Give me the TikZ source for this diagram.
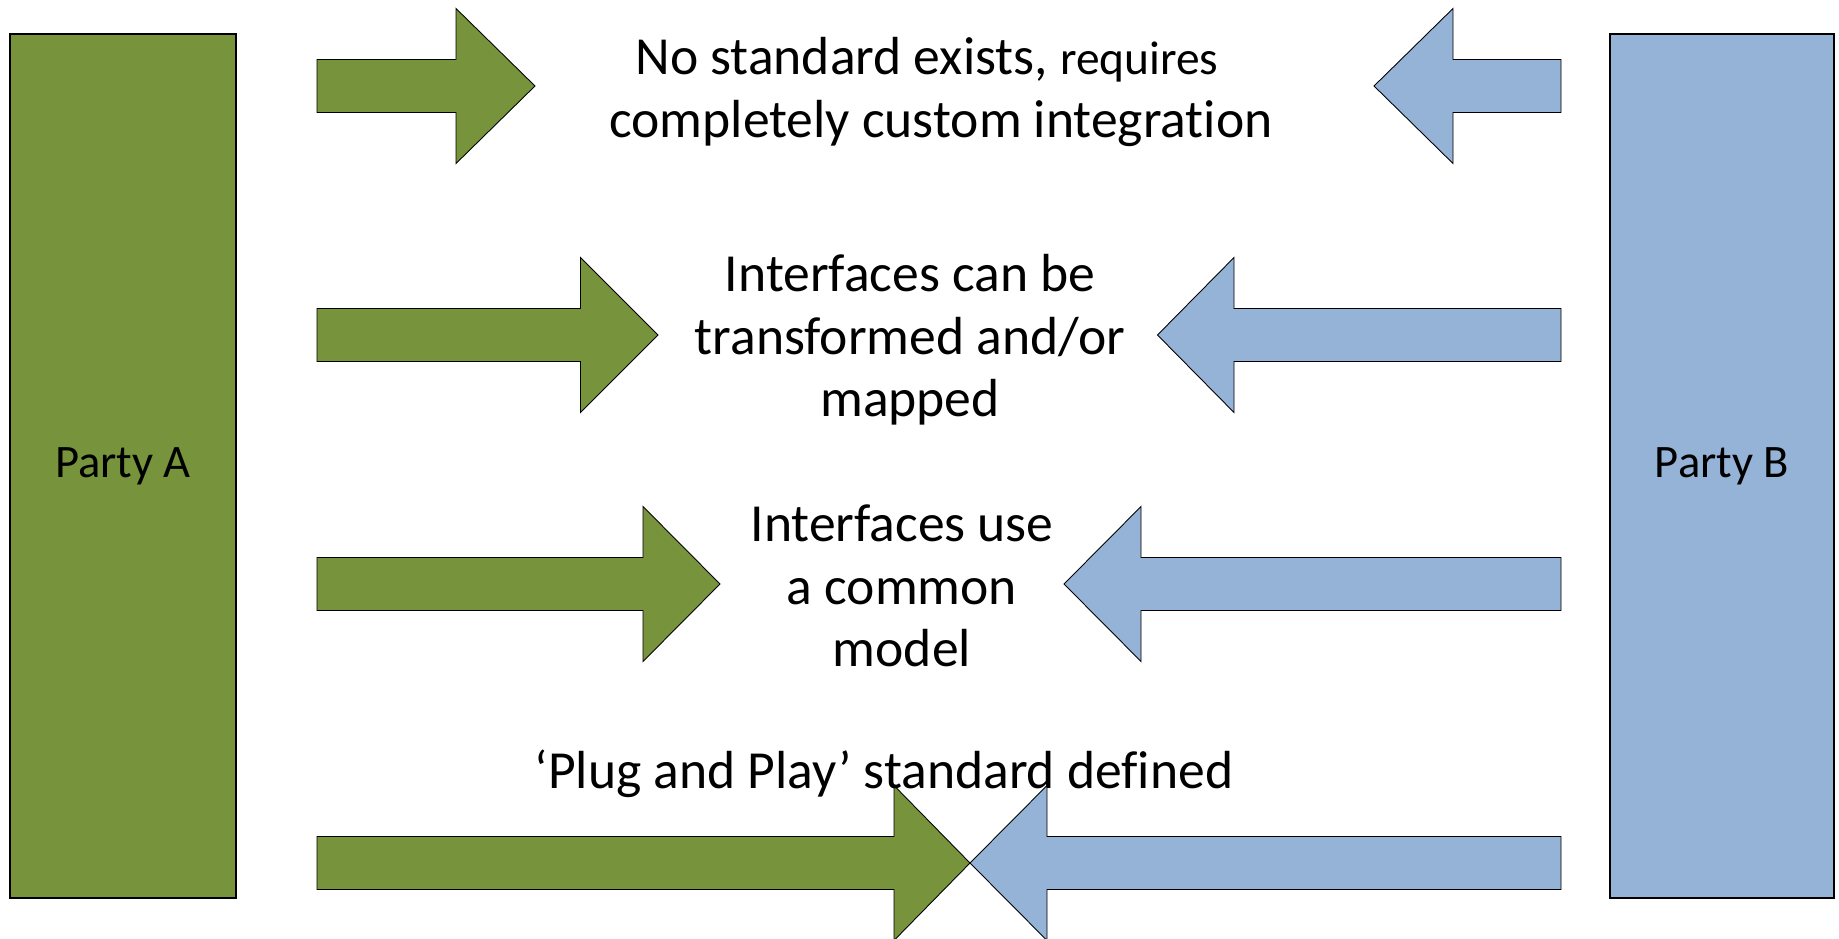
\documentclass[tikz,border=0pt]{standalone}
\usepackage{fontspec}
\setmainfont[Ligatures=NoCommon]{Carlito}
\usepackage{tikz}

\definecolor{partygreen}{HTML}{77933C}
\definecolor{partyblue}{HTML}{95B3D7}

\tikzset{
  greenarrow/.style={draw=black, fill=partygreen, line width=0.5pt, line join=miter},
  bluearrow/.style={draw=black, fill=partyblue, line width=0.5pt, line join=miter},
  party/.style={draw=black, line width=1.1pt, inner sep=0pt, font=\fontsize{26.5}{32}\selectfont},
  caption/.style={align=center, inner sep=0pt, font=\fontsize{30.5}{35.5}\selectfont}
}

% block arrow: style, tail x, head base x, tip x, centre y
\newcommand{\blockarrow}[5]{%
  \draw[#1] (#2,#5-26.5) -- (#3,#5-26.5) -- (#3,#5-77.5) -- (#4,#5)
    -- (#3,#5+77.5) -- (#3,#5+26.5) -- (#2,#5+26.5) -- cycle;}

\begin{document}
\begin{tikzpicture}[x=0.02cm, y=-0.02cm]
\useasboundingbox (0,0) rectangle (1839,939);

% the two parties
\node (partyA) at (123,466) [party, fill=partygreen, minimum width=4.52cm, minimum height=17.28cm] {Party A};
\node (partyB) at (1722,466) [party, fill=partyblue, minimum width=4.48cm, minimum height=17.28cm] {Party B};

% arrows
\blockarrow{greenarrow}{317}{456}{535}{86}
\blockarrow{bluearrow}{1561}{1453}{1374}{86}
\blockarrow{greenarrow}{317}{580.5}{658}{335}
\blockarrow{bluearrow}{1561}{1234}{1157.5}{335}
\blockarrow{greenarrow}{317}{643}{720}{584}
\blockarrow{bluearrow}{1561}{1141}{1064}{584}
\blockarrow{greenarrow}{317}{894}{970}{863}
\blockarrow{bluearrow}{1561}{1047}{970}{863}

% captions
\node (custom) at (941,92) [caption] {No standard exists, {\fontsize{27}{35.5}\selectfont requires}\hspace*{16pt}\\completely custom integration};
\node (mapped) at (910,340) [caption] {Interfaces can be\\transformed and/or\\mapped};
\node (common) at (902,586) [caption] {Interfaces use\\a common\\model};
\node (plug) at (884,774) [caption] {‘Plug and Play’ standard defined};
\end{tikzpicture}
\end{document}
